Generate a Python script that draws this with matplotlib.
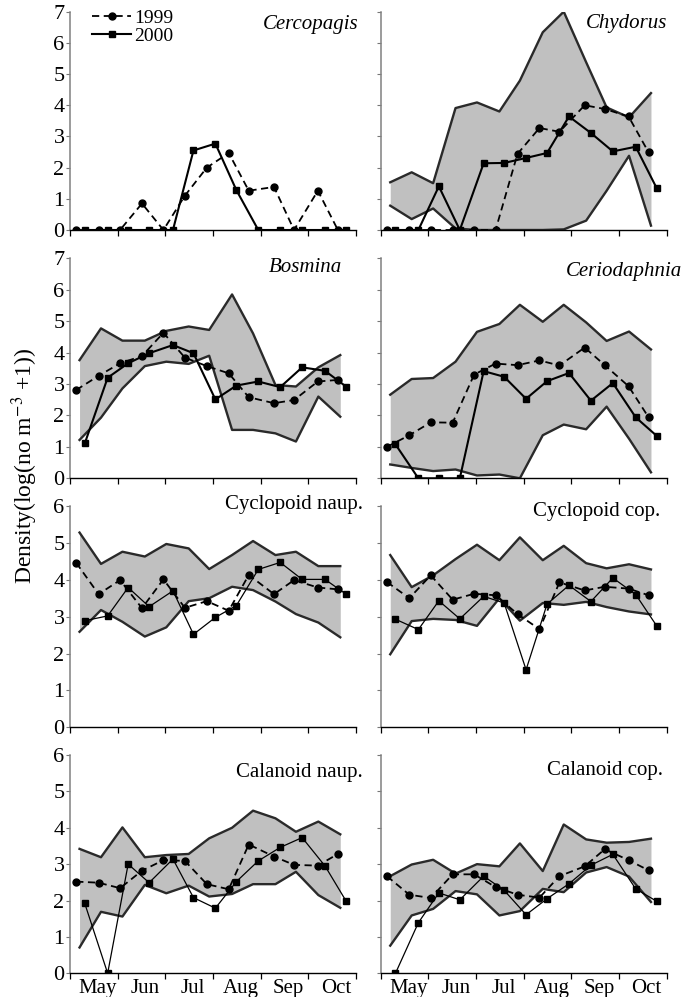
import matplotlib
matplotlib.use("Agg")
import matplotlib.pyplot as plt

plt.rcParams['font.family'] = ['Liberation Serif', 'DejaVu Serif']
plt.rcParams['mathtext.fontset'] = 'stix'

# ---------------- data ----------------
# sampling times, in months after 1 May
t1999 = [0.13, 0.60, 1.05, 1.51, 1.96, 2.41, 2.87, 3.33, 3.75, 4.28, 4.70, 5.20, 5.62]
t2000 = [0.31, 0.79, 1.22, 1.66, 2.16, 2.59, 3.05, 3.49, 3.95, 4.41, 4.87, 5.35, 5.79]
tband = [0.20, 0.65, 1.10, 1.57, 2.02, 2.49, 2.92, 3.40, 3.84, 4.31, 4.74, 5.21, 5.67]

months = ['May', 'Jun', 'Jul', 'Aug', 'Sep', 'Oct']
series_labels = ['1999', '2000']

taxa = ['Cercopagis', 'Chydorus', 'Bosmina', 'Ceriodaphnia',
        'Cyclopoid naup.', 'Cyclopoid cop.', 'Calanoid naup.', 'Calanoid cop.']

cercopagis_1999 = [0, 0, 0, 0.85, 0, 1.10, 2.00, 2.47, 1.26, 1.38, 0, 1.26, 0]
cercopagis_2000 = [0, 0, 0, 0, 0, 2.55, 2.77, 1.28, 0, 0, 0, 0, 0]

chydorus_1999 = [0, 0, 0, 0, 0, 0, 2.44, 3.27, 3.15, 4.00, 3.88, 3.64, 2.49]
chydorus_2000 = [0, 0, 1.40, 0, 2.14, 2.15, 2.31, 2.47, 3.64, 3.11, 2.52, 2.67, 1.34]
chydorus_upper = [1.53, 1.85, 1.50, 3.91, 4.09, 3.80, 4.79, 6.34, 7.00, 5.38, 3.93, 3.61, 4.39]
chydorus_lower = [0.78, 0.35, 0.69, 0.05, 0, 0, 0, 0, 0.02, 0.30, 1.26, 2.38, 0.14]

bosmina_1999 = [2.81, 3.26, 3.66, 3.89, 4.63, 3.84, 3.57, 3.34, 2.58, 2.39, 2.49, 3.08, 3.13]
bosmina_2000 = [1.11, 3.20, 3.66, 3.98, 4.24, 3.98, 2.51, 2.95, 3.08, 2.90, 3.53, 3.42, 2.92]
bosmina_upper = [3.76, 4.77, 4.38, 4.38, 4.69, 4.83, 4.72, 5.85, 4.61, 2.97, 2.92, 3.53, 3.92]
bosmina_lower = [1.22, 1.93, 2.86, 3.57, 3.71, 3.64, 3.90, 1.54, 1.54, 1.43, 1.17, 2.60, 1.96]

cerio_1999 = [1.00, 1.37, 1.78, 1.77, 3.30, 3.65, 3.60, 3.75, 3.59, 4.16, 3.60, 2.93, 1.94]
cerio_2000 = [1.08, 0, 0, 0, 3.41, 3.23, 2.53, 3.09, 3.35, 2.47, 3.03, 1.94, 1.35]
cerio_upper = [2.66, 3.16, 3.19, 3.71, 4.66, 4.91, 5.52, 4.98, 5.52, 4.96, 4.37, 4.67, 4.10]
cerio_lower = [0.44, 0.33, 0.23, 0.28, 0.09, 0.12, 0, 1.37, 1.71, 1.56, 2.28, 1.26, 0.19]

cycnaup_1999 = [4.46, 3.61, 3.99, 3.23, 4.01, 3.24, 3.42, 3.16, 4.13, 3.61, 3.99, 3.79, 3.74]
cycnaup_2000 = [2.89, 3.02, 3.79, 3.27, 3.70, 2.52, 2.98, 3.30, 4.28, 4.47, 4.01, 4.01, 3.61]
cycnaup_upper = [5.28, 4.43, 4.76, 4.63, 4.97, 4.85, 4.29, 4.67, 5.05, 4.67, 4.76, 4.37, 4.37]
cycnaup_lower = [2.59, 3.18, 2.86, 2.46, 2.71, 3.42, 3.50, 3.81, 3.72, 3.41, 3.07, 2.84, 2.44]

cyccop_1999 = [3.94, 3.50, 4.12, 3.46, 3.62, 3.58, 3.07, 2.66, 3.93, 3.71, 3.81, 3.76, 3.58]
cyccop_2000 = [2.93, 2.65, 3.43, 2.94, 3.55, 3.37, 1.56, 3.34, 3.85, 3.41, 4.05, 3.60, 2.75]
cyccop_upper = [4.67, 3.80, 4.12, 4.56, 4.95, 4.53, 5.15, 4.53, 4.92, 4.45, 4.31, 4.42, 4.28]
cyccop_lower = [1.98, 2.88, 2.94, 2.91, 2.75, 3.50, 2.89, 3.37, 3.32, 3.40, 3.26, 3.14, 3.06]

calnaup_1999 = [2.52, 2.49, 2.34, 2.82, 3.11, 3.09, 2.45, 2.31, 3.54, 3.21, 2.98, 2.96, 3.28]
calnaup_2000 = [1.92, 0, 3.00, 2.49, 3.14, 2.08, 1.79, 2.52, 3.09, 3.46, 3.73, 2.95, 1.99]
calnaup_upper = [3.42, 3.19, 4.01, 3.19, 3.25, 3.28, 3.71, 4.00, 4.47, 4.26, 3.89, 4.17, 3.82]
calnaup_lower = [0.71, 1.69, 1.56, 2.43, 2.20, 2.41, 2.11, 2.18, 2.45, 2.45, 2.79, 2.15, 1.80]

calcop_1999 = [2.67, 2.16, 2.07, 2.72, 2.72, 2.37, 2.16, 2.08, 2.67, 2.94, 3.41, 3.11, 2.83]
calcop_2000 = [0, 1.39, 2.21, 2.02, 2.67, 2.28, 1.61, 2.05, 2.46, 2.97, 3.27, 2.32, 1.98]
calcop_upper = [2.67, 2.99, 3.12, 2.74, 3.00, 2.94, 3.57, 2.81, 4.09, 3.68, 3.59, 3.61, 3.70]
calcop_lower = [0.76, 1.59, 1.77, 2.26, 2.17, 1.59, 1.71, 2.32, 2.23, 2.77, 2.92, 2.66, 1.96]

panels = [
    (cercopagis_1999, cercopagis_2000, None, None),
    (chydorus_1999, chydorus_2000, chydorus_upper, chydorus_lower),
    (bosmina_1999, bosmina_2000, bosmina_upper, bosmina_lower),
    (cerio_1999, cerio_2000, cerio_upper, cerio_lower),
    (cycnaup_1999, cycnaup_2000, cycnaup_upper, cycnaup_lower),
    (cyccop_1999, cyccop_2000, cyccop_upper, cyccop_lower),
    (calnaup_1999, calnaup_2000, calnaup_upper, calnaup_lower),
    (calcop_1999, calcop_2000, calcop_upper, calcop_lower),
]

# ---------------- layout ----------------
W, H = 698, 997
fig = plt.figure(figsize=(W / 100, H / 100), dpi=100)

col_left = [70, 380.7]
col_w = 286
rows_px = [(11.7, 230.0), (258.3, 478.3), (506.0, 727.3), (755.0, 973.3)]
ymax_rows = [7, 7, 6, 6]
italic = [True, True, True, True, False, False, False, False]
title_pos = [(1.007, 0.94), (1.001, 0.948), (0.951, 0.956), (1.054, 0.938),
             (1.024, 1.005), (0.977, 0.973), (1.024, 0.922), (0.987, 0.927)]

for i, (s99, s00, up, lo) in enumerate(panels):
    r, c = divmod(i, 2)
    top, bot = rows_px[r]
    ax = fig.add_axes([col_left[c] / W, 1 - bot / H, col_w / W, (bot - top) / H])
    ymax = ymax_rows[r]
    if up is not None:
        ax.fill_between(tband, lo, up, color='#c0c0c0', lw=0, zorder=1)
        ax.plot(tband, up, color='#2a2a2a', lw=1.7, zorder=2)
        ax.plot(tband, lo, color='#2a2a2a', lw=1.7, zorder=2)
    lw00 = 1.5 if r < 2 else 0.9
    ax.plot(t1999, s99, color='black', ls=(0, (4, 2.5)), lw=1.3, marker='o',
            ms=5, zorder=4, label=series_labels[0])
    ax.plot(t2000, s00, color='black', ls='-', lw=lw00, marker='s',
            ms=4.2, zorder=3, label=series_labels[1])

    ax.set_xlim(0, 6)
    ax.set_ylim(0, ymax)
    ax.set_yticks(range(0, ymax + 1))
    ax.set_xticks(range(0, 7))
    ax.set_xticklabels([])
    ax.set_xticks([m + 0.58 for m in range(6)], minor=True)
    if r == 3:
        ax.set_xticklabels(months, minor=True, fontsize=15)
    ax.tick_params(axis='x', which='minor', length=0, pad=4)
    ax.tick_params(axis='x', which='major', length=4, width=0.9, direction='out')
    ax.tick_params(axis='y', length=3, width=0.8, direction='out', pad=1,
                   labelsize=16, color='#777777')
    if c == 1:
        ax.tick_params(axis='y', labelleft=False)
    for s in ['top', 'right']:
        ax.spines[s].set_visible(False)
    ax.spines['left'].set_color('#808080')
    ax.spines['left'].set_linewidth(1.1)
    ax.spines['bottom'].set_color('black')
    ax.spines['bottom'].set_linewidth(1.0)

    tx, ty = title_pos[i]
    ax.text(tx, ty, taxa[i], transform=ax.transAxes, ha='right', va='center',
            fontsize=15, style='italic' if italic[i] else 'normal')

    if i == 0:
        ax.legend(loc='upper left', bbox_to_anchor=(0.05, 1.045), frameon=False,
                  fontsize=14, handlelength=2.0, handletextpad=0.15,
                  labelspacing=0.0, borderaxespad=0, numpoints=1)

fig.text(25 / W, 1 - 466 / H, 'Density(log(no m$^{-3}$ +1))', rotation=90,
         ha='center', va='center', fontsize=17)

fig.savefig('out.png', dpi=100)
